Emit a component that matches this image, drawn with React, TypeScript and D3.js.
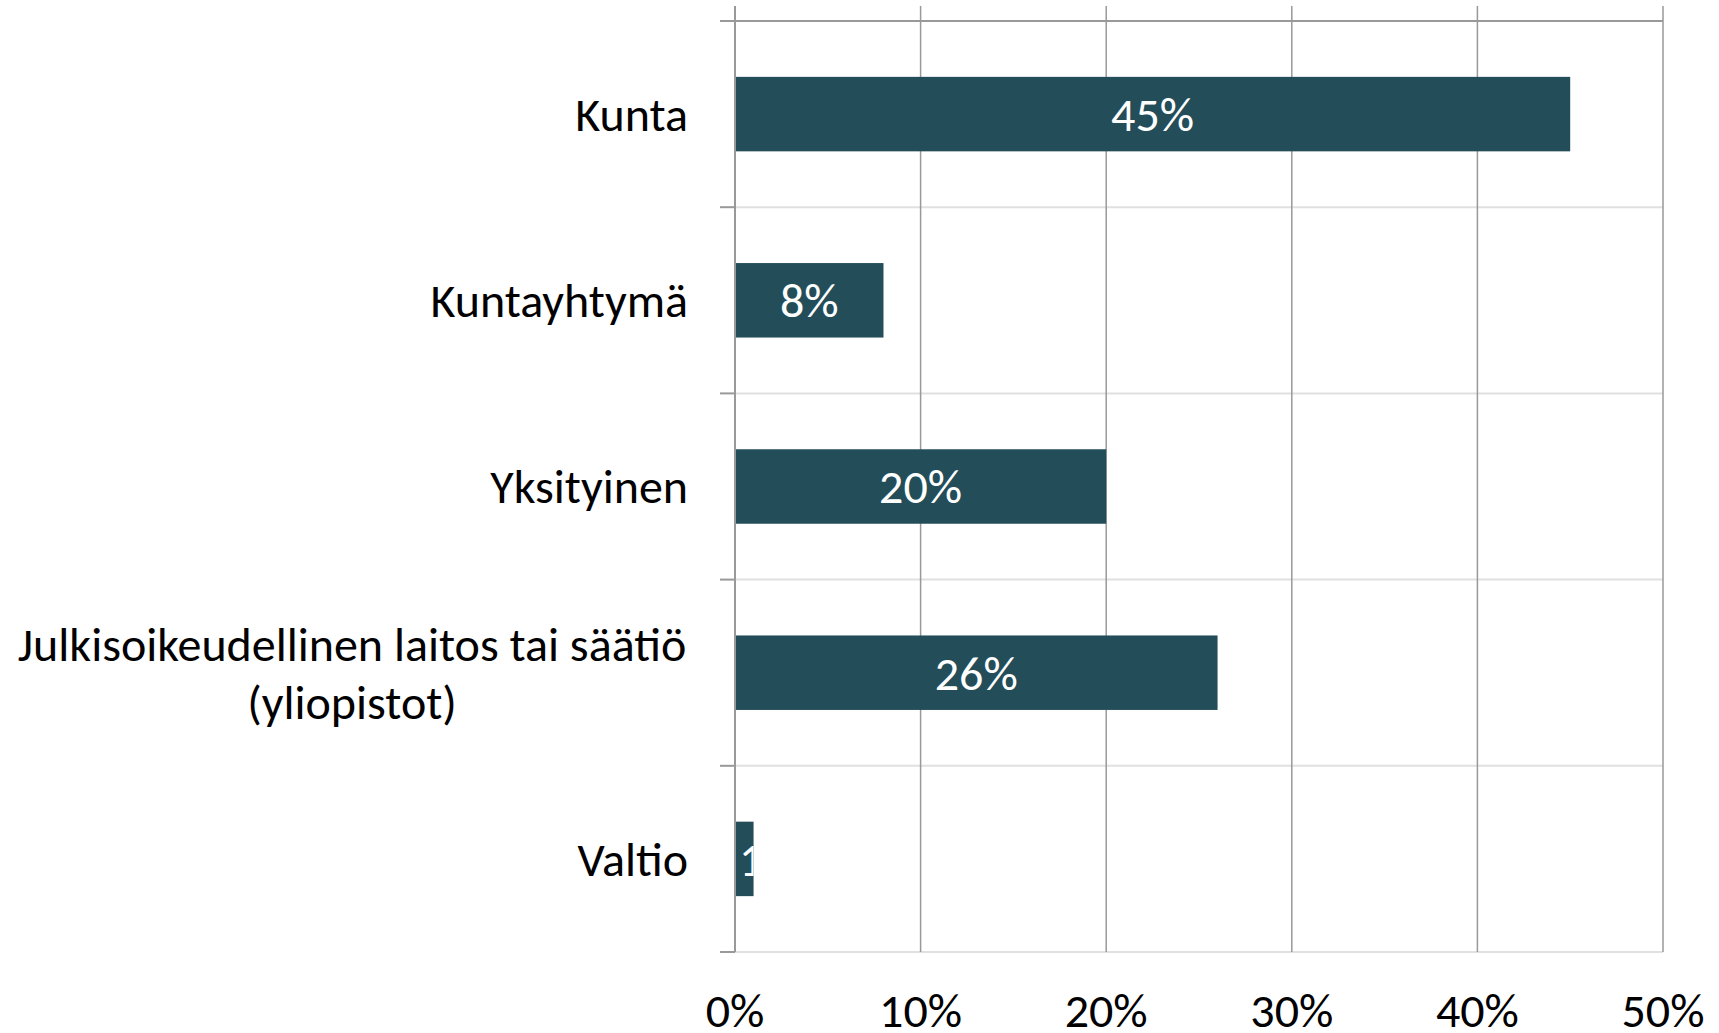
import React from "react";
import * as d3 from "d3";

const categories: string[][] = [
  ["Kunta"],
  ["Kuntayhtymä"],
  ["Yksityinen"],
  ["Julkisoikeudellinen laitos tai säätiö", "(yliopistot)"],
  ["Valtio"],
];
const values: number[] = [0.45, 0.08, 0.2, 0.26, 0.01];
const ticks: number[] = [0, 0.1, 0.2, 0.3, 0.4, 0.5];

const W = 1719;
const H = 1033;
const FONT = "Carlito, Calibri, Lato, sans-serif";
const BAR = "#244D5A";

export default function App() {
  const x = d3.scaleLinear().domain([0, 0.5]).range([735, 1663]);
  const y = d3
    .scaleBand<number>()
    .domain(d3.range(categories.length))
    .range([21, 952])
    .paddingInner(0.6)
    .paddingOuter(0.3);
  const step = y.step();
  const bandTop = (i: number) => 21 + i * step;
  const fmt = d3.format(".0%");
  const fs = 48;

  return (
    <svg
      width={W}
      height={H}
      style={{ position: "absolute", left: 0, top: 0, background: "#fff" }}
      fontFamily={FONT}
    >
      {/* horizontal gridlines */}
      {d3.range(categories.length + 1).map((i) => (
        <line
          key={"h" + i}
          x1={x(0)}
          x2={x(0.5)}
          y1={bandTop(i)}
          y2={bandTop(i)}
          stroke={i === 0 ? "#999" : "#e0e0e0"}
          strokeWidth={2}
        />
      ))}
      {/* category ticks */}
      {d3.range(categories.length + 1).map((i) => (
        <line
          key={"t" + i}
          x1={720}
          x2={x(0)}
          y1={bandTop(i)}
          y2={bandTop(i)}
          stroke="#999"
          strokeWidth={2}
        />
      ))}
      {/* vertical gridlines */}
      {ticks.map((t) => (
        <line
          key={"v" + t}
          x1={x(t)}
          x2={x(t)}
          y1={6}
          y2={952}
          stroke="#999"
          strokeWidth={t === 0 ? 2 : 1.5}
        />
      ))}
      <defs>
        {values.map((v, i) => (
          <clipPath id={"clip" + i} key={"c" + i}>
            <rect x={x(0)} y={y(i)} width={x(v) - x(0)} height={y.bandwidth()} />
          </clipPath>
        ))}
      </defs>
      {/* bars */}
      {values.map((v, i) => (
        <rect
          key={"b" + i}
          x={x(0) + 1}
          y={y(i)}
          width={x(v) - x(0) - 1}
          height={y.bandwidth()}
          fill={BAR}
        />
      ))}
      {/* data labels */}
      {values.map((v, i) => {
        const w = x(v) - x(0);
        const narrow = w < 60;
        return (
          <text
            key={"l" + i}
            x={narrow ? x(0) + 4 : (x(0) + x(v)) / 2}
            y={y(i)! + y.bandwidth() / 2}
            dy="0.35em"
            textAnchor={narrow ? "start" : "middle"}
            fill="#fff"
            fontSize={fs}
            clipPath={`url(#clip${i})`}
          >
            {fmt(v)}
          </text>
        );
      })}
      {/* category labels */}
      {categories.map((lines, i) => {
        const cy = y(i)! + y.bandwidth() / 2;
        const lh = 58;
        const n = lines.length;
        return (
          <text key={"cat" + i} fontSize={fs} fill="#000">
            {lines.map((ln, j) => (
              <tspan
                key={j}
                x={n > 1 ? 352 : 688}
                textAnchor={n > 1 ? "middle" : "end"}
                y={cy + (j - (n - 1) / 2) * lh}
                dy="0.35em"
              >
                {ln}
              </tspan>
            ))}
          </text>
        );
      })}
      {/* x tick labels */}
      {ticks.map((t) => (
        <text
          key={"x" + t}
          x={x(t)}
          y={1027}
          textAnchor="middle"
          fontSize={fs}
          fill="#000"
        >
          {fmt(t)}
        </text>
      ))}
    </svg>
  );
}
